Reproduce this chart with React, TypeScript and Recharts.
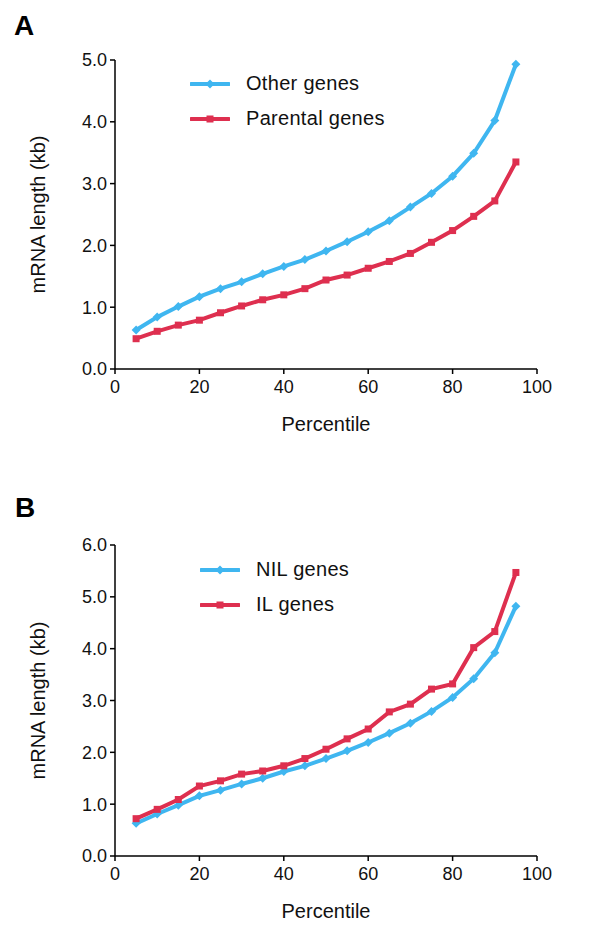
import React from 'react';
import { LineChart, Line, XAxis, YAxis, Label } from 'recharts';

const percentiles = [5, 10, 15, 20, 25, 30, 35, 40, 45, 50, 55, 60, 65, 70, 75, 80, 85, 90, 95];
const otherGenes = [0.63, 0.84, 1.01, 1.17, 1.30, 1.41, 1.54, 1.66, 1.77, 1.91, 2.06, 2.22, 2.40, 2.62, 2.84, 3.12, 3.49, 4.02, 4.93];
const parentalGenes = [0.49, 0.61, 0.71, 0.79, 0.91, 1.02, 1.12, 1.20, 1.30, 1.44, 1.52, 1.63, 1.74, 1.87, 2.05, 2.24, 2.47, 2.72, 3.35];
const nilGenes = [0.63, 0.81, 0.98, 1.16, 1.27, 1.39, 1.50, 1.63, 1.74, 1.88, 2.03, 2.19, 2.37, 2.56, 2.79, 3.06, 3.42, 3.92, 4.82];
const ilGenes = [0.72, 0.90, 1.09, 1.35, 1.45, 1.58, 1.64, 1.74, 1.88, 2.06, 2.26, 2.45, 2.78, 2.93, 3.22, 3.32, 4.02, 4.33, 5.47];

const xTicks = [0, 20, 40, 60, 80, 100];
const yTicksA = [0, 1, 2, 3, 4, 5];
const yTicksB = [0, 1, 2, 3, 4, 5, 6];

const BLUE = '#3fb6f0';
const RED = '#de2f4f';
const FONT = '"Liberation Sans", Arial, sans-serif';

const dataA = percentiles.map((p, i) => ({ p, a: otherGenes[i], b: parentalGenes[i] }));
const dataB = percentiles.map((p, i) => ({ p, a: nilGenes[i], b: ilGenes[i] }));

const Diamond = (props: any) => {
  const { cx, cy, key } = props;
  if (cx == null || cy == null) return null;
  const r = 4.5;
  return <path key={key} d={`M${cx},${cy - r}L${cx + r},${cy}L${cx},${cy + r}L${cx - r},${cy}Z`} fill={BLUE} />;
};
const Square = (props: any) => {
  const { cx, cy, key } = props;
  if (cx == null || cy == null) return null;
  const s = 3.5;
  return <rect key={key} x={cx - s} y={cy - s} width={2 * s} height={2 * s} fill={RED} />;
};

const LegendBox = ({ items, left, top }: { items: { label: string; color: string; shape: 'd' | 's' }[]; left: number; top: number }) => (
  <div style={{ position: 'absolute', left, top, fontFamily: FONT, fontSize: 20, color: '#111' }}>
    {items.map((it) => (
      <div key={it.label} style={{ display: 'flex', alignItems: 'center', height: 35 }}>
        <svg width={40} height={12} style={{ marginRight: 16 }}>
          <line x1={1} y1={6} x2={39} y2={6} stroke={it.color} strokeWidth={4} strokeLinecap="round" />
          {it.shape === 'd' ? (
            <path d="M20,1.5L24.5,6L20,10.5L15.5,6Z" fill={it.color} />
          ) : (
            <rect x={16.5} y={2.5} width={7} height={7} fill={it.color} />
          )}
        </svg>
        <span style={{ letterSpacing: 0.3, whiteSpace: 'nowrap' }}>{it.label}</span>
      </div>
    ))}
  </div>
);

const tickStyle = { fontSize: 18, fill: '#111', fontFamily: FONT };
const axisLine = { stroke: '#000', strokeWidth: 1.5 };

function Panel({ data, yTicks, yMax, names, top, legendPos, height, marginTop }: any) {
  return (
    <div style={{ position: 'absolute', left: 0, top, width: 600, height }}>
      <LineChart width={600} height={height} data={data} margin={{ top: marginTop, right: 63, left: 0, bottom: 10 }}>
        <XAxis
          dataKey="p"
          type="number"
          domain={[0, 100]}
          ticks={xTicks}
          tick={tickStyle}
          tickLine={{ stroke: '#000', strokeWidth: 1.5 }}
          axisLine={axisLine}
          tickSize={5}
          tickMargin={6}
          height={62}
          interval={0}
        >
          <Label value="Percentile" position="insideBottom" offset={0} style={{ fontSize: 20, fill: '#111', fontFamily: FONT }} />
        </XAxis>
        <YAxis
          type="number"
          domain={[0, yMax]}
          ticks={yTicks}
          tickFormatter={(v: number) => v.toFixed(1)}
          tick={tickStyle}
          tickLine={{ stroke: '#000', strokeWidth: 1.5 }}
          axisLine={axisLine}
          tickSize={5}
          tickMargin={3}
          width={115}
          interval={0}
        >
          <Label
            value="mRNA length (kb)"
            angle={-90}
            position="insideLeft"
            offset={38}
            style={{ fontSize: 20, fill: '#111', fontFamily: FONT, textAnchor: 'middle' }}
          />
        </YAxis>
        <Line dataKey="a" name={names[0]} stroke={BLUE} strokeWidth={4} dot={Diamond} activeDot={false} isAnimationActive={false} />
        <Line dataKey="b" name={names[1]} stroke={RED} strokeWidth={4} dot={Square} activeDot={false} isAnimationActive={false} />
      </LineChart>
      <LegendBox
        left={legendPos.left}
        top={legendPos.top}
        items={[
          { label: names[0], color: BLUE, shape: 'd' },
          { label: names[1], color: RED, shape: 's' },
        ]}
      />
    </div>
  );
}

export default function App() {
  return (
    <div style={{ position: 'absolute', left: 0, top: 0, width: 600, height: 931, background: '#fff', overflow: 'hidden' }}>
      <div style={{ position: 'absolute', left: 14, top: 10, fontFamily: FONT, fontWeight: 'bold', fontSize: 28, color: '#000' }}>A</div>
      <div style={{ position: 'absolute', left: 15, top: 492, fontFamily: FONT, fontWeight: 'bold', fontSize: 28, color: '#000' }}>B</div>
      <Panel
        data={dataA}
        yTicks={yTicksA}
        yMax={5}
        names={['Other genes', 'Parental genes']}
        top={0}
        height={441}
        marginTop={60}
        legendPos={{ left: 190, top: 66 }}
      />
      <Panel
        data={dataB}
        yTicks={yTicksB}
        yMax={6}
        names={['NIL genes', 'IL genes']}
        top={480}
        height={448}
        marginTop={65}
        legendPos={{ left: 200, top: 72 }}
      />
    </div>
  );
}
